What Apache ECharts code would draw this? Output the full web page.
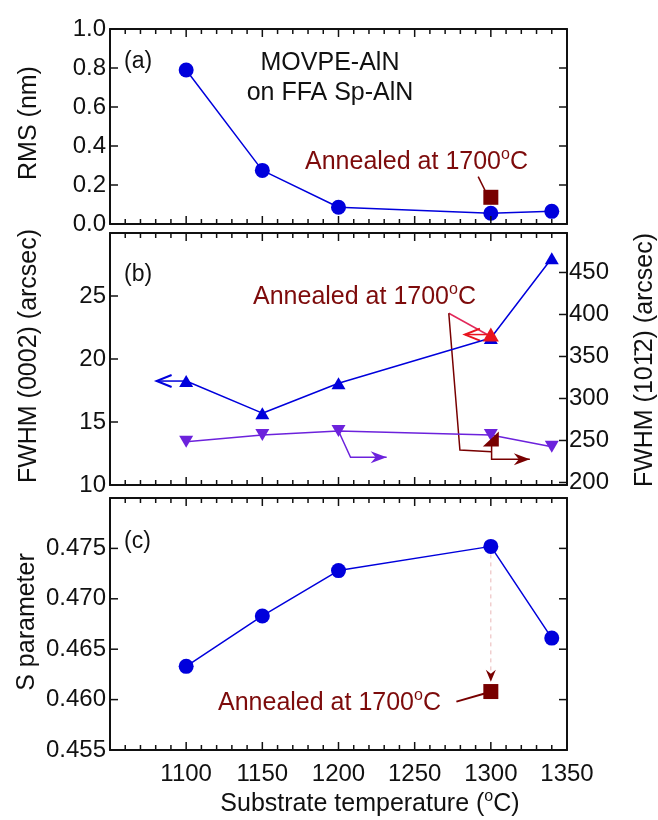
<!DOCTYPE html>
<html>
<head>
<meta charset="utf-8">
<script src="https://cdn.jsdelivr.net/npm/echarts@6/dist/echarts.min.js"></script>
<style>
  html, body { margin: 0; padding: 0; background: #ffffff; }
  #chart { width: 658px; height: 820px; }
</style>
</head>
<body>
<div id="chart"></div>
<script>
// Substrate temperatures (°C)
const temps = [1100, 1150, 1200, 1300, 1340];

// (a) surface roughness, nm
const rms = [0.79, 0.275, 0.086, 0.055, 0.065];
const rmsAnnealed = [[1300, 0.137]];

// (b) XRC FWHM, arcsec
const fwhm0002 = [18.25, 15.7, 18.07, 21.67, 28.0];
const fwhm1012 = [248.5, 256.5, 261.3, 256.5, 242.6];
const fwhm0002Annealed = [[1300, 21.94]];
const fwhm1012Annealed = [[1300, 251.8]];

// (c) positron S parameter
const sParam = [0.4633, 0.4683, 0.4728, 0.4752, 0.4661];
const sAnnealed = [[1300, 0.4608]];

// tick labels
const xTicks = [1100, 1150, 1200, 1250, 1300, 1350];
const rmsTicks = [0, 0.2, 0.4, 0.6, 0.8, 1.0];
const fwhm0002Ticks = [10, 15, 20, 25];
const fwhm1012Ticks = [200, 250, 300, 350, 400, 450];
const sTicks = [0.455, 0.460, 0.465, 0.470, 0.475];

// minor temperature ticks every 10 °C between the labelled ones
const xMinorTicks = [];
for (let v = 1060; v < 1350; v += 10) if (v % 50 !== 0) xMinorTicks.push(v);

const FONT = '"Liberation Sans", Arial, Helvetica, sans-serif';
const INK = '#111111';
const BLUE = '#0000dc';
const PURPLE = '#6c22dc';
const RED = '#e8141e';
const RED_LINE = '#e2285a';
const DARK = '#780000';
const DARK_TEXT = '#7d0b0b';
const PINK = '#e9b6b6';

const pairs = (xs, ys) => xs.map((x, i) => [x, ys[i]]);

const grids = [
  { left: 110, right: 91, top: 29, height: 195, outerBoundsMode: 'none' },
  { left: 110, right: 91, top: 233, height: 252, outerBoundsMode: 'none' },
  { left: 110, right: 91, top: 498, height: 252, outerBoundsMode: 'none' }
];

const axisLine = () => ({ show: true, onZero: false, lineStyle: { color: INK, width: 2 } });

// every panel gets a bottom and a mirrored top temperature axis
function xAxisDef(gi, pos, showLabels) {
  return {
    type: 'value', gridIndex: gi, position: pos, min: 1050, max: 1350, interval: 50,
    splitLine: { show: false }, axisLine: axisLine(),
    axisTick: { show: false }, minorTick: { show: false },
    axisLabel: {
      show: showLabels, fontSize: 24, fontFamily: FONT, color: INK, margin: 12,
      customValues: xTicks.slice(), formatter: v => String(v)
    }
  };
}
const xAxes = [];
grids.forEach((g, gi) => {
  xAxes.push(xAxisDef(gi, 'bottom', gi === 2));
  xAxes.push(xAxisDef(gi, 'top', false));
});

function yAxisDef(gi, pos, min, max, ticks, digits, showLabels, margin) {
  return {
    type: 'value', gridIndex: gi, position: pos, min: min, max: max,
    splitLine: { show: false }, axisLine: axisLine(), axisTick: { show: false },
    axisLabel: {
      show: showLabels, fontSize: 24, fontFamily: FONT, color: INK, margin: margin,
      customValues: ticks.slice(), formatter: v => v.toFixed(digits)
    }
  };
}

const yAxes = [
  yAxisDef(0, 'left', 0, 1, rmsTicks, 1, true, 4),
  yAxisDef(0, 'right', 0, 1, rmsTicks, 1, false, 4),
  yAxisDef(1, 'left', 10, 30, fwhm0002Ticks, 0, true, 4),
  yAxisDef(1, 'right', 197, 497, fwhm1012Ticks, 0, true, 2),
  yAxisDef(2, 'left', 0.455, 0.48, sTicks, 3, true, 4),
  yAxisDef(2, 'right', 0.455, 0.48, sTicks, 3, false, 4)
];

// inward tick marks on the frame of a panel, placed through the axis scales
function tickMarks(xi, yi, cfg) {
  return {
    type: 'custom', xAxisIndex: xi, yAxisIndex: yi, clip: false, silent: true, z: 4,
    data: [[1100, cfg.yAny]],
    renderItem: (params, api) => {
      const cs = params.coordSys;
      const L = cs.x, R = cs.x + cs.width, T = cs.y, B = cs.y + cs.height;
      const children = [];
      const seg = (x1, y1, x2, y2) => children.push({
        type: 'line', shape: { x1: x1, y1: y1, x2: x2, y2: y2 },
        style: { stroke: INK, lineWidth: 1.5 }
      });
      if (cfg.x) {
        xTicks.forEach(v => { const px = api.coord([v, cfg.yAny])[0]; seg(px, B, px, B - 8); seg(px, T, px, T + 8); });
        xMinorTicks.forEach(v => { const px = api.coord([v, cfg.yAny])[0]; seg(px, B, px, B - 5); seg(px, T, px, T + 5); });
      }
      (cfg.left || []).forEach(v => { const py = api.coord([1100, v])[1]; seg(L, py, L + 8, py); });
      (cfg.right || []).forEach(v => { const py = api.coord([1100, v])[1]; seg(R, py, R - 8, py); });
      return { type: 'group', children: children };
    }
  };
}

// arrows and leader lines, given in axis units
function annotations(xi, yi, shapes) {
  return {
    type: 'custom', xAxisIndex: xi, yAxisIndex: yi, clip: false, silent: true, z: 1,
    data: [shapes[0].pts[0]],
    renderItem: (params, api) => {
      const children = [];
      shapes.forEach(s => {
        const p = s.pts.map(pt => api.coord(pt));
        children.push({
          type: 'polyline', shape: { points: p },
          style: { stroke: s.color, lineWidth: s.width || 1.5, lineDash: s.dash || null, fill: null }
        });
        if (s.head) {
          const a = p[p.length - 1], b = p[p.length - 2];
          const dx = a[0] - b[0], dy = a[1] - b[1];
          const len = Math.hypot(dx, dy) || 1;
          const ux = dx / len, uy = dy / len, nx = -uy, ny = ux;
          const L = s.head.len, W = s.head.half;
          const back = [a[0] - ux * L, a[1] - uy * L];
          const l = [back[0] + nx * W, back[1] + ny * W];
          const r = [back[0] - nx * W, back[1] - ny * W];
          const hc = s.head.color || s.color;
          if (s.head.open) {
            children.push({
              type: 'polyline', shape: { points: [l, a, r] },
              style: { stroke: hc, lineWidth: 2, fill: null }
            });
          } else {
            const n = L - s.head.notch;
            children.push({
              type: 'polygon',
              shape: { points: [a, l, [a[0] - ux * n, a[1] - uy * n], r] },
              style: { fill: hc }
            });
          }
        }
      });
      return { type: 'group', children: children };
    }
  };
}

const openHead = { open: true, len: 15, half: 6 };
const fillHead = { len: 16, half: 6, notch: 5 };
const solid = c => ({ color: c, opacity: 1 });

const series = [
  // frame ticks
  tickMarks(0, 0, { x: true, yAny: 0.5, left: rmsTicks, right: rmsTicks }),
  tickMarks(2, 2, { x: true, yAny: 20, left: fwhm0002Ticks }),
  tickMarks(2, 3, { x: false, yAny: 300, right: fwhm1012Ticks }),
  tickMarks(4, 4, { x: true, yAny: 0.465, left: sTicks, right: sTicks }),

  // (a)
  annotations(0, 0, [
    { pts: [[1291.7, 0.243], [1296.1, 0.174]], color: DARK, width: 1.5 }
  ]),
  {
    type: 'line', xAxisIndex: 0, yAxisIndex: 0, data: pairs(temps, rms), z: 2,
    symbol: 'circle', symbolSize: 15, itemStyle: solid(BLUE),
    lineStyle: { color: BLUE, width: 1.5 }
  },
  {
    type: 'scatter', xAxisIndex: 0, yAxisIndex: 0, data: rmsAnnealed, z: 3,
    symbol: 'rect', symbolSize: 15, itemStyle: solid(DARK)
  },

  // (b)
  annotations(2, 2, [
    { pts: [[1272.4, 23.63], [1303.5, 21.55]], color: RED_LINE, width: 1.5 },
    { pts: [[1272.4, 23.63], [1279.7, 12.78], [1300.5, 12.64]], color: DARK, width: 1.5 },
    { pts: [[1100, fwhm0002[0]], [1080.6, fwhm0002[0]]], color: BLUE, width: 1.5, head: openHead },
    { pts: [[1300, fwhm0002Annealed[0][1]], [1283, fwhm0002Annealed[0][1]]], color: RED, width: 1.5, head: openHead }
  ]),
  annotations(2, 3, [
    { pts: [[1200, fwhm1012[2]], [1207.9, 230], [1231.6, 230]], color: PURPLE, width: 1.5, head: fillHead },
    { pts: [[1300.5, 251.8], [1300.5, 227.6], [1325.6, 227.6]], color: DARK, width: 1.5, head: fillHead }
  ]),
  {
    type: 'line', xAxisIndex: 2, yAxisIndex: 2, data: pairs(temps, fwhm0002), z: 2,
    symbol: 'triangle', symbolSize: [14, 12], itemStyle: solid(BLUE),
    lineStyle: { color: BLUE, width: 1.5 }
  },
  {
    type: 'line', xAxisIndex: 2, yAxisIndex: 3, data: pairs(temps, fwhm1012), z: 2,
    symbol: 'triangle', symbolRotate: 180, symbolSize: [14, 12], itemStyle: solid(PURPLE),
    lineStyle: { color: PURPLE, width: 1.5 }
  },
  {
    type: 'scatter', xAxisIndex: 2, yAxisIndex: 2, data: fwhm0002Annealed, z: 3,
    symbol: 'triangle', symbolSize: [16, 14], itemStyle: solid(RED)
  },
  {
    type: 'scatter', xAxisIndex: 2, yAxisIndex: 3, data: fwhm1012Annealed, z: 3,
    symbol: 'path://M10,0 L10,10 L0,10 Z', symbolSize: [16, 15], itemStyle: solid(DARK)
  },

  // (c)
  annotations(4, 4, [
    { pts: [[1300, sParam[3]], [1300, 0.46177]], color: PINK, width: 1, dash: [4, 4],
      head: { len: 12, half: 5, notch: 4, color: DARK } },
    { pts: [[1277.4, 0.4598], [1296, 0.4606]], color: DARK, width: 2 }
  ]),
  {
    type: 'line', xAxisIndex: 4, yAxisIndex: 4, data: pairs(temps, sParam), z: 2,
    symbol: 'circle', symbolSize: 15, itemStyle: solid(BLUE),
    lineStyle: { color: BLUE, width: 1.5 }
  },
  {
    type: 'scatter', xAxisIndex: 4, yAxisIndex: 4, data: sAnnealed, z: 3,
    symbol: 'rect', symbolSize: 15, itemStyle: solid(DARK)
  }
];

// text with a raised "o" for the degree sign
function supRich(color, size) {
  return {
    n: { fontSize: size, fontFamily: FONT, fill: color, lineHeight: 30 },
    s: { fontSize: Math.round(size * 0.64), fontFamily: FONT, fill: color, lineHeight: 18, verticalAlign: 'top' }
  };
}
function label(x, y, text, opts) {
  opts = opts || {};
  return {
    type: 'text', x: x, y: y, rotation: opts.rotation || 0, z: 50, silent: true,
    style: {
      text: text, fontSize: opts.size || 24, fontFamily: FONT, fill: opts.color || INK,
      align: opts.align || 'left', verticalAlign: 'middle', rich: opts.rich
    }
  };
}

const annealedText = '{n|Annealed at 1700}{s|o}{n|C}';

const graphics = [
  label(124, 62, '(a)', { size: 23 }),
  label(124, 275, '(b)', { size: 23 }),
  label(124, 542, '(c)', { size: 23 }),
  label(330, 63, 'MOVPE-AlN', { size: 25, align: 'center' }),
  label(330, 93, 'on FFA Sp-AlN', { size: 25, align: 'center' }),
  label(305, 162, annealedText, { rich: supRich(DARK_TEXT, 25) }),
  label(253, 297, annealedText, { rich: supRich(DARK_TEXT, 25) }),
  label(218, 703, annealedText, { rich: supRich(DARK_TEXT, 25) }),
  label(29, 123, 'RMS (nm)', { size: 25, align: 'center', rotation: Math.PI / 2 }),
  label(29, 356, 'FWHM (0002) (arcsec)', { size: 25, align: 'center', rotation: Math.PI / 2 }),
  label(27, 622, 'S parameter', { size: 25, align: 'center', rotation: Math.PI / 2 }),
  label(645, 360, 'FWHM (101\u03042) (arcsec)', { size: 25, align: 'center', rotation: Math.PI / 2 }),
  label(370, 804, '{n|Substrate temperature (}{s|o}{n|C)}', { align: 'center', rich: supRich(INK, 25) })
];

const chart = echarts.init(document.getElementById('chart'), null, { renderer: 'canvas' });
chart.setOption({
  animation: false,
  backgroundColor: '#ffffff',
  grid: grids,
  xAxis: xAxes,
  yAxis: yAxes,
  series: series,
  graphic: graphics
});
</script>
</body>
</html>
